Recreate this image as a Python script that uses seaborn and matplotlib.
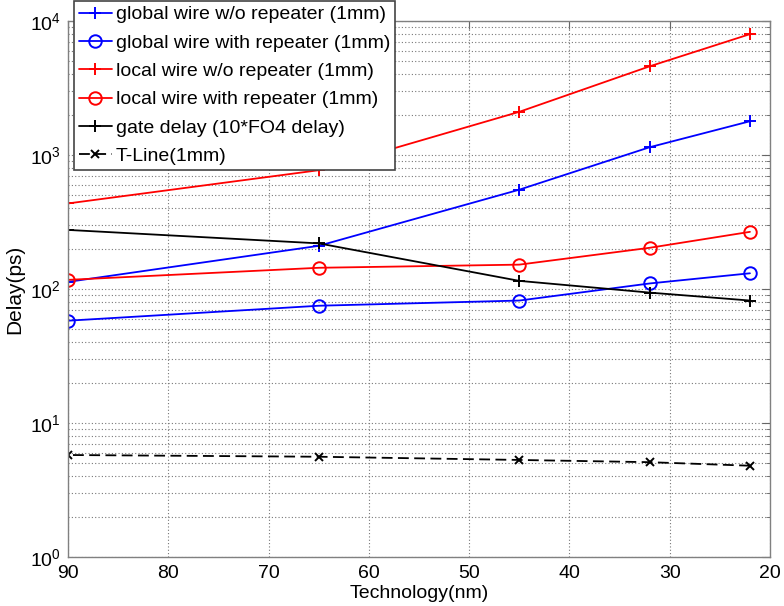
import numpy as np
import pandas as pd
import seaborn as sns
import matplotlib
matplotlib.use("Agg")
import matplotlib.pyplot as plt
from matplotlib.ticker import LogLocator, NullFormatter, FixedLocator

# Technology nodes (nm)
tech = [90, 65, 45, 32, 22]

# Delay values (ps)
global_no_rep = [113, 210, 551, 1143, 1786]
global_rep = [58, 75, 82, 110, 131]
local_no_rep = [435, 770, 2100, 4590, 7980]
local_rep = [117, 144, 152, 203, 267]
gate_delay = [276, 219, 115, 94, 82]
tline = [5.77, 5.6, 5.3, 5.1, 4.8]

labels = [
    "global wire w/o repeater (1mm)",
    "global wire with repeater (1mm)",
    "local wire w/o repeater (1mm)",
    "local wire with repeater (1mm)",
    "gate delay (10*FO4 delay)",
    "T-Line(1mm)",
]
series = [global_no_rep, global_rep, local_no_rep, local_rep, gate_delay, tline]
colors = ["#0000ff", "#0000ff", "#ff0000", "#ff0000", "#000000", "#000000"]
markers = ["+", "o", "+", "o", "+", "x"]
styles = ["-", "-", "-", "-", "-", (0, (6, 3))]

df = pd.concat(
    [pd.DataFrame({"tech": tech, "delay": s, "series": lab}) for s, lab in zip(series, labels)],
    ignore_index=True,
)

sns.set_style("white")
plt.rcParams["font.family"] = ["Liberation Sans", "DejaVu Sans"]
plt.rcParams["text.color"] = "black"
plt.rcParams["axes.labelcolor"] = "black"
plt.rcParams["xtick.labelcolor"] = "black"
plt.rcParams["ytick.labelcolor"] = "black"

fig = plt.figure(figsize=(7.84, 6.06), dpi=100)
ax = fig.add_axes([68 / 784, 1 - 557 / 606, 702 / 784, 536 / 606])

for lab, col, mk, ls in zip(labels, colors, markers, styles):
    sub = df[df["series"] == lab]
    sns.lineplot(
        data=sub, x="tech", y="delay", ax=ax, color=col, marker=mk,
        markersize=6 if mk == "x" else 9, markeredgewidth=1.4,
        markerfacecolor="none", markeredgecolor=col,
        linewidth=1.3, label=lab, linestyle=ls,
    )

ax.set_yscale("log")
ax.set_ylim(1, 1e4)
ax.set_xlim(90, 20)
ax.xaxis.set_major_locator(FixedLocator([90, 80, 70, 60, 50, 40, 30, 20]))
ax.yaxis.set_major_locator(LogLocator(base=10, numticks=10))
ax.yaxis.set_minor_locator(LogLocator(base=10, subs=np.arange(2, 10), numticks=20))
ax.yaxis.set_minor_formatter(NullFormatter())

ax.grid(True, which="major", axis="both", linestyle=(0, (1, 2)), color="#777777", linewidth=0.8)
ax.grid(True, which="minor", axis="y", linestyle=(0, (1, 2)), color="#777777", linewidth=0.8)

ax.tick_params(axis="both", which="both", direction="in", top=True, right=True,
               labelsize=14, color="#666666", labelcolor="black")
ax.tick_params(which="major", length=6)
ax.tick_params(which="minor", length=3)
ax.tick_params(axis="x", pad=6)
ax.tick_params(axis="y", pad=5)
for sp in ax.spines.values():
    sp.set_color("#808080")
    sp.set_linewidth(1.0)

ax.set_xlabel("Technology(nm)", fontsize=14, labelpad=2, color="black")
ax.set_ylabel("Delay(ps)", fontsize=15, labelpad=4, color="black")

leg = ax.legend(
    loc="upper left", bbox_to_anchor=(74 / 784, 1 - 1 / 606),
    bbox_transform=fig.transFigure, fontsize=14, frameon=True, fancybox=False,
    borderpad=0.25, labelspacing=0.55, handlelength=1.7, handletextpad=0.2,
    borderaxespad=0,
)
for t in leg.get_texts():
    t.set_color("black")
leg.get_frame().set_edgecolor("#444444")
leg.get_frame().set_linewidth(1.2)
leg.get_frame().set_alpha(1.0)

fig.savefig("out.png", dpi=100)
